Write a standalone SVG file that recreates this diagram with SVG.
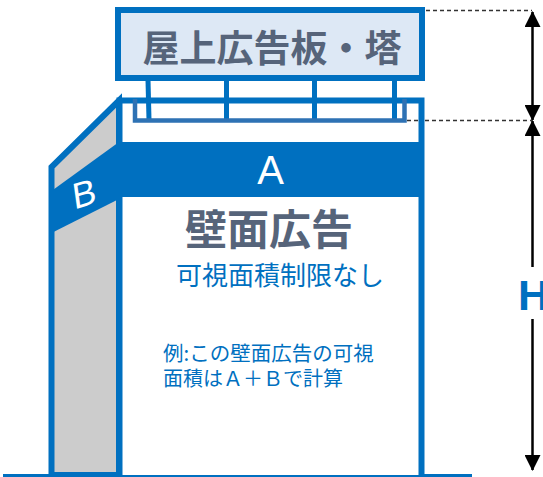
<svg xmlns="http://www.w3.org/2000/svg" width="543" height="477" viewBox="0 0 543 477">
  <defs>
    <style>
      .blue { fill: #0070c0; }
      .ln { stroke: #0070c0; fill: none; }
      .jp { font-family: "Noto Sans CJK JP", "Noto Sans", sans-serif; }
      .lat { font-family: "Liberation Sans", Arial, sans-serif; }
      .gray { fill: #56647a; font-weight: bold; }
      .dash { stroke: #333; stroke-width: 1.5; stroke-dasharray: 4 3; fill: none; }
      .dim { stroke: #000; stroke-width: 2.5; fill: none; }
    </style>
    <marker id="ah" viewBox="0 0 16 16" refX="15" refY="8" markerWidth="16" markerHeight="16" markerUnits="userSpaceOnUse" orient="auto">
      <path d="M0,0 L16,8 L0,16 Z" fill="#000"/>
    </marker>
  </defs>

  <!-- ground -->
  <line x1="3" y1="475.5" x2="472" y2="475.5" class="ln" stroke-width="3"/>

  <!-- side face with B band -->
  <g id="side-face">
    <polygon points="51.5,475 51.5,167 119,100.5 119,475" fill="#cccccc"/>
    <polygon points="51.5,191 119,142 119,199 51.5,233" class="blue"/>
    <polygon points="51.5,475 51.5,167 119,100.5 119,475" fill="none" stroke="#0070c0" stroke-width="6" stroke-linejoin="miter"/>
    <g transform="translate(84,193) rotate(-8) skewY(-9)">
      <text x="0" y="13" class="lat" font-size="36" fill="#fff" text-anchor="middle">B</text>
    </g>
  </g>

  <!-- front face -->
  <g id="front-face">
    <path d="M119.5,475 V100.5 H421.5 V475" fill="#fff" stroke="#0070c0" stroke-width="6"/>
    <rect x="119.5" y="142" width="302" height="55" class="blue"/>
    <text x="270.5" y="184" class="lat" font-size="40" fill="#fff" text-anchor="middle">A</text>
    <text x="269" y="245" class="jp gray" font-size="42" text-anchor="middle">壁面広告</text>
    <text x="280" y="285" class="jp blue" font-size="26" text-anchor="middle">可視面積制限なし</text>
    <text x="163" y="361" class="jp blue" font-size="20.5">例:この壁面広告の可視</text>
    <text x="163" y="386" class="jp blue" font-size="20">面積はＡ＋Ｂで計算</text>
  </g>

  <!-- rooftop sign -->
  <g id="rooftop-sign">
    <g stroke="#0070c0" stroke-width="5" fill="none">
      <line x1="148" y1="80" x2="149" y2="120"/>
      <line x1="226.5" y1="80" x2="226.5" y2="120"/>
      <line x1="314.5" y1="80" x2="314.5" y2="120"/>
      <line x1="394.5" y1="80" x2="394.5" y2="120"/>
    </g>
    <polyline points="135,99 135,120.5 404.5,120.5 404.5,99" fill="none" stroke="#2e72b4" stroke-width="4.5"/>
    <rect x="118" y="10" width="304" height="68" fill="#dde8f5" stroke="#0070c0" stroke-width="6"/>
    <text x="272" y="62" class="jp gray" font-size="37" text-anchor="middle">屋上広告板・塔</text>
  </g>

  <!-- dimension lines -->
  <g id="connectors">
    <line x1="426" y1="10.5" x2="532" y2="10.5" class="dash"/>
    <line x1="407" y1="120.5" x2="418" y2="120.5" class="dash"/>
    <line x1="425" y1="120.5" x2="532" y2="120.5" class="dash"/>
    <line x1="532.5" y1="65" x2="532.5" y2="12" class="dim" marker-end="url(#ah)"/>
    <line x1="532.5" y1="65" x2="532.5" y2="120" class="dim" marker-end="url(#ah)"/>
    <line x1="532.5" y1="267" x2="532.5" y2="121" class="dim" marker-end="url(#ah)"/>
    <line x1="532.5" y1="319" x2="532.5" y2="470" class="dim" marker-end="url(#ah)"/>
    <text x="518" y="310" class="lat blue" font-size="43" font-weight="bold">H</text>
  </g>
</svg>
